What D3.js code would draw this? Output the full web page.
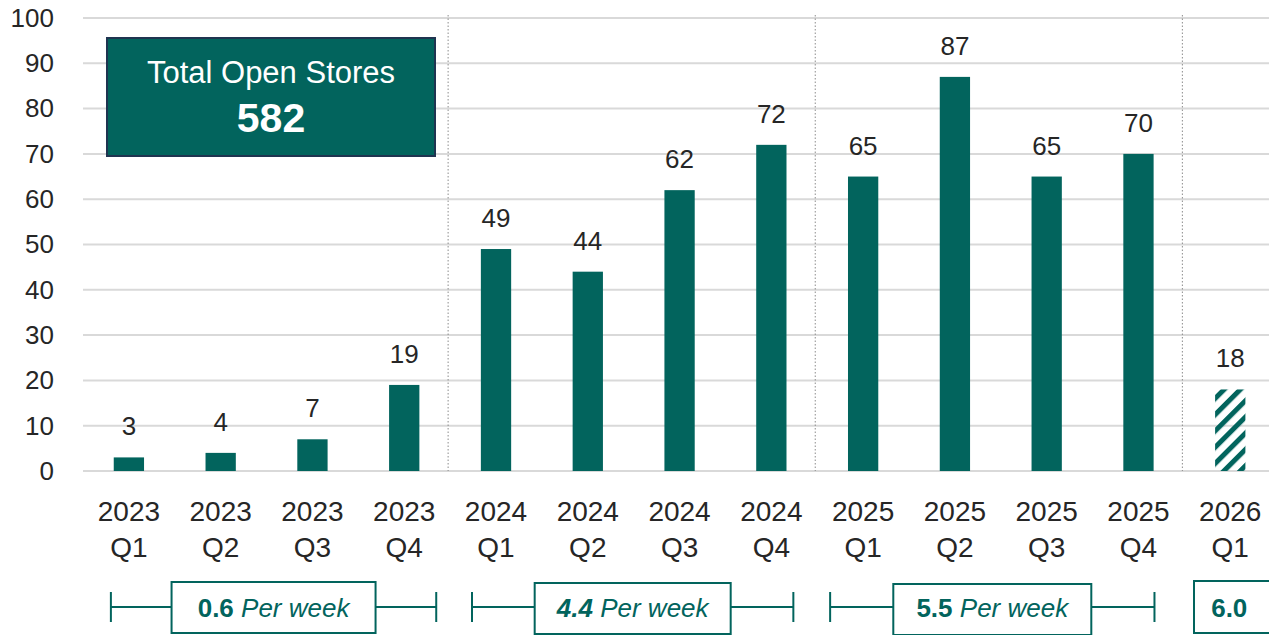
<!DOCTYPE html>
<html>
<head>
<meta charset="utf-8">
<script src="https://cdn.jsdelivr.net/npm/d3@7"></script>
<style>
  body { margin: 0; background: #fff; }
  svg { display: block; font-family: "Liberation Sans", Arial, sans-serif; }
</style>
</head>
<body>
<div id="chart"></div>
<script>
// Data
const categories = ["2023 Q1", "2023 Q2", "2023 Q3", "2023 Q4",
                    "2024 Q1", "2024 Q2", "2024 Q3", "2024 Q4",
                    "2025 Q1", "2025 Q2", "2025 Q3", "2025 Q4",
                    "2026 Q1"];
const openings = [3, 4, 7, 19, 49, 44, 62, 72, 65, 87, 65, 70, 18];
const partial = [false, false, false, false, false, false, false, false, false, false, false, false, true];
const yTicks = [0, 10, 20, 30, 40, 50, 60, 70, 80, 90, 100];
const separatorsAfter = ["2023 Q4", "2024 Q4", "2025 Q4"];
const groupFirst = ["2023 Q1", "2024 Q1", "2025 Q1"];
const groupLast = ["2023 Q4", "2024 Q4", "2025 Q4"];
const groupRate = ["0.6", "4.4", "5.5"];
const groupItalicRate = [false, true, false];
const lastRate = "6.0";
const totalStores = 582;

const width = 1269, height = 635;
const teal = "#02645d";
const textCol = "#262626";

// bracket fine-tuning (left pad, right pad, box width) per group
const bracketPads = [[18, 32, 204], [24, 22, 196], [33, 16, 198]];

const svg = d3.select("#chart").append("svg")
    .attr("width", width)
    .attr("height", height);

// Hatch pattern for partial quarter
svg.append("defs").append("pattern")
    .attr("id", "hatch")
    .attr("patternUnits", "userSpaceOnUse")
    .attr("width", 11.5)
    .attr("height", 11.5)
    .attr("patternTransform", "rotate(45)")
    .append("rect")
    .attr("width", 5)
    .attr("height", 11.5)
    .attr("fill", teal);

// Scales
const x = d3.scaleBand()
    .domain(categories)
    .range([83, 83 + 13 * 91.78])
    .paddingInner(0.67)
    .paddingOuter(0.335);

const y = d3.scaleLinear()
    .domain([0, 100])
    .range([471, 18]);

const cx = d => x(d) + x.bandwidth() / 2;

// Gridlines
svg.append("g")
    .selectAll("line")
    .data(yTicks)
    .join("line")
    .attr("x1", 83)
    .attr("x2", width)
    .attr("y1", d => y(d))
    .attr("y2", d => y(d))
    .attr("stroke", "#d9d9d9")
    .attr("stroke-width", 2);

// Y axis labels
const yAxis = d3.axisLeft(y).tickValues(yTicks).tickSize(0).tickPadding(0);
svg.append("g")
    .attr("transform", "translate(54,0)")
    .call(yAxis)
    .call(g => g.select(".domain").remove())
    .selectAll("text")
    .attr("font-family", "Liberation Sans, Arial, sans-serif")
    .attr("font-size", 26)
    .attr("fill", textCol);

// Year separators (dotted)
svg.append("g")
    .selectAll("line")
    .data(separatorsAfter)
    .join("line")
    .attr("x1", d => x(d) + x.bandwidth() + x.step() * 0.335 - 2)
    .attr("x2", d => x(d) + x.bandwidth() + x.step() * 0.335 - 2)
    .attr("y1", 15)
    .attr("y2", y(0))
    .attr("stroke", "#8c8c8c")
    .attr("stroke-width", 1)
    .attr("stroke-dasharray", "1.5,2");

// Bars
svg.append("g")
    .selectAll("rect")
    .data(categories)
    .join("rect")
    .attr("x", d => x(d))
    .attr("y", (d, i) => y(openings[i]))
    .attr("width", x.bandwidth())
    .attr("height", (d, i) => y(0) - y(openings[i]))
    .attr("fill", (d, i) => partial[i] ? "url(#hatch)" : teal);

// Value labels
svg.append("g")
    .selectAll("text")
    .data(categories)
    .join("text")
    .attr("x", d => cx(d))
    .attr("y", (d, i) => y(openings[i]) - 22)
    .attr("text-anchor", "middle")
    .attr("font-size", 26)
    .attr("fill", textCol)
    .text((d, i) => openings[i]);

// X labels (two lines)
const xl = svg.append("g")
    .selectAll("text")
    .data(categories)
    .join("text")
    .attr("text-anchor", "middle")
    .attr("font-size", 28)
    .attr("fill", textCol);
xl.append("tspan")
    .attr("x", d => cx(d))
    .attr("y", 521)
    .text(d => d.split(" ")[0]);
xl.append("tspan")
    .attr("x", d => cx(d))
    .attr("y", 557)
    .text(d => d.split(" ")[1]);

// Total box
svg.append("rect")
    .attr("x", 107)
    .attr("y", 38)
    .attr("width", 328)
    .attr("height", 118)
    .attr("fill", teal)
    .attr("stroke", "#1f3450")
    .attr("stroke-width", 2);
svg.append("text")
    .attr("x", 271)
    .attr("y", 83)
    .attr("text-anchor", "middle")
    .attr("font-size", 31)
    .attr("fill", "#fff")
    .text("Total Open Stores");
svg.append("text")
    .attr("x", 271)
    .attr("y", 132)
    .attr("text-anchor", "middle")
    .attr("font-size", 41)
    .attr("font-weight", "bold")
    .attr("fill", "#fff")
    .text(totalStores);

// Run-rate brackets
const bracketY = 607;
const brackets = svg.append("g");
groupFirst.forEach((first, i) => {
    const [padL, padR, boxW] = bracketPads[i];
    const x0 = cx(first) - padL;
    const x1 = cx(groupLast[i]) + padR;
    const mid = (x0 + x1) / 2;
    const g = brackets.append("g");
    g.append("line")
        .attr("x1", x0).attr("x2", x1)
        .attr("y1", bracketY).attr("y2", bracketY)
        .attr("stroke", teal).attr("stroke-width", 2);
    [x0, x1].forEach(xx => {
        g.append("line")
            .attr("x1", xx).attr("x2", xx)
            .attr("y1", bracketY - 15).attr("y2", bracketY + 15)
            .attr("stroke", teal).attr("stroke-width", 2);
    });
    g.append("rect")
        .attr("x", mid - boxW / 2)
        .attr("y", 582 + i)
        .attr("width", boxW)
        .attr("height", 51)
        .attr("fill", "#fff")
        .attr("stroke", teal)
        .attr("stroke-width", 2);
    const t = g.append("text")
        .attr("x", mid)
        .attr("y", 617)
        .attr("text-anchor", "middle")
        .attr("font-size", 26)
        .attr("fill", teal);
    t.append("tspan")
        .attr("font-weight", "bold")
        .attr("font-style", groupItalicRate[i] ? "italic" : "normal")
        .text(groupRate[i]);
    t.append("tspan")
        .attr("font-style", "italic")
        .text(" Per week");
});

// Last quarter rate box
brackets.append("rect")
    .attr("x", 1194)
    .attr("y", 581)
    .attr("width", 90)
    .attr("height", 52)
    .attr("fill", "#fff")
    .attr("stroke", teal)
    .attr("stroke-width", 2);
brackets.append("text")
    .attr("x", cx("2026 Q1") - 1)
    .attr("y", 617)
    .attr("text-anchor", "middle")
    .attr("font-size", 26)
    .attr("font-weight", "bold")
    .attr("fill", teal)
    .text(lastRate);
</script>
</body>
</html>
